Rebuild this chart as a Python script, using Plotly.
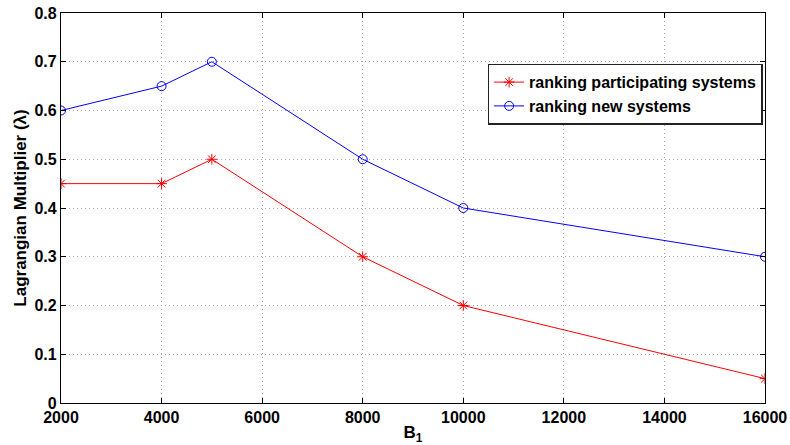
import plotly.graph_objects as go

x_vals = [2000, 4000, 5000, 8000, 10000, 16000]
participating = [0.45, 0.45, 0.5, 0.3, 0.2, 0.05]
new_systems = [0.6, 0.65, 0.7, 0.5, 0.4, 0.3]
x_ticks = [2000, 4000, 6000, 8000, 10000, 12000, 14000, 16000]
x_labels = ["2000", "4000", "6000", "8000", "10000", "12000", "14000", "16000"]
y_ticks = [0, 0.1, 0.2, 0.3, 0.4, 0.5, 0.6, 0.7, 0.8]
y_labels = ["0", "0.1", "0.2", "0.3", "0.4", "0.5", "0.6", "0.7", "0.8"]

fig = go.Figure()
fig.add_trace(go.Scatter(
    x=x_vals, y=participating, mode="lines+markers",
    name="ranking participating systems",
    line=dict(color="red", width=1),
    marker=dict(symbol="asterisk-open", size=9, color="red", line=dict(color="red", width=1)),
))
fig.add_trace(go.Scatter(
    x=x_vals, y=new_systems, mode="lines+markers",
    name="ranking new systems",
    line=dict(color="blue", width=1),
    marker=dict(symbol="circle-open", size=9, color="blue", line=dict(color="blue", width=1)),
))

font = "Liberation Sans, Arial, sans-serif"
grid = dict(showgrid=True, gridcolor="#a8a8a8", griddash="1px,3px", gridwidth=1)
fig.update_layout(
    width=790, height=445,
    margin=dict(l=61, r=25, t=13, b=42, autoexpand=False),
    paper_bgcolor="white", plot_bgcolor="white",
    font=dict(family=font, size=16, color="black"),
    showlegend=True,
    legend=dict(
        x=0.606, y=0.87, xanchor="left", yanchor="top",
        bordercolor="#222222", borderwidth=1.5, bgcolor="white",
        font=dict(family=font, size=16, color="black", weight="bold"),
        tracegroupgap=0, itemwidth=30,
    ),
    xaxis=dict(
        range=[2000, 16000], tickvals=x_ticks, ticktext=x_labels,
        ticks="inside", ticklen=5, tickcolor="black", automargin=False,
        showline=True, linecolor="black", linewidth=1.3, mirror="allticks",
        zeroline=False, **grid,
        tickfont=dict(family=font, size=16, color="black", weight="bold"),
        title=dict(text="B<sub>1</sub>", font=dict(family=font, size=17, weight="bold"), standoff=2),
    ),
    yaxis=dict(
        range=[0, 0.8], tickvals=y_ticks, ticktext=y_labels,
        ticks="inside", ticklen=5, tickcolor="black", automargin=False,
        showline=True, linecolor="black", linewidth=1.3, mirror="allticks",
        zeroline=False, **grid,
        tickfont=dict(family=font, size=16, color="black", weight="bold"),
        title=dict(text="Lagrangian Multiplier (λ)", font=dict(family=font, size=17, weight="bold"), standoff=3),
    ),
)
fig.write_html("out.html")
